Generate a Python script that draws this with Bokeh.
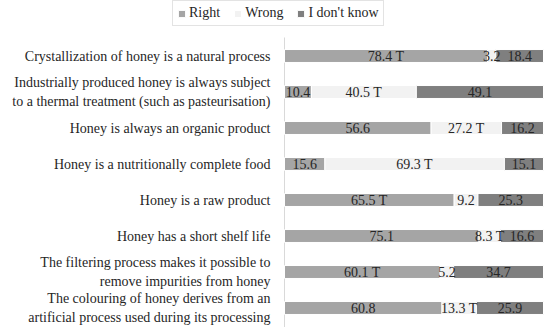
from bokeh.plotting import figure
from bokeh.models import ColumnDataSource, Range1d, Legend, LegendItem
from bokeh.core.properties import value
from bokeh.embed import file_html
from bokeh.resources import INLINE

statements = [
    "Crystallization of honey is a natural process",
    "Industrially produced honey is always subject\nto a thermal treatment (such as pasteurisation)",
    "Honey is always an organic product",
    "Honey is a nutritionally complete food",
    "Honey is a raw product",
    "Honey has a short shelf life",
    "The filtering process makes it possible to\nremove impurities from honey",
    "The colouring of honey derives from an\nartificial process used during its processing",
]
right = [78.4, 10.4, 56.6, 15.6, 65.5, 75.1, 60.1, 60.8]
wrong = [3.2, 40.5, 27.2, 69.3, 9.2, 8.3, 5.2, 13.3]
dont_know = [18.4, 49.1, 16.2, 15.1, 25.3, 16.6, 34.7, 25.9]
right_marks = ["T", "", "", "", "T", "", "T", ""]
wrong_marks = ["", "T", "T", "T", "", "T", "", "T"]
dk_marks = ["", "", "", "", "", "", "", ""]
series_names = ["Right", "Wrong", "I don't know"]
colors = ["#a5a5a5", "#f2f2f2", "#7f7f7f"]

FONT = "Liberation Serif"
TXT = "#262626"
rows = list(range(len(statements)))

W, H = 550, 327
LEFT, RIGHT_PAD = 284, 7          # frame-pixel position of 0 % and space right of 100 %
ROW_PX, FIRST_ROW_PX = 36, 55.5   # row spacing and centre of first row (pixels)
AXIS_TOP_PX = 37

px_per_unit = (W - LEFT - RIGHT_PAD) / 100.0
x_start = -LEFT / px_per_unit
x_end = 100 + RIGHT_PAD / px_per_unit
y_top = rows[0] - FIRST_ROW_PX / ROW_PX
y_bottom = rows[-1] + (H - (FIRST_ROW_PX + ROW_PX * rows[-1])) / ROW_PX
axis_top = rows[0] - (FIRST_ROW_PX - AXIS_TOP_PX) / ROW_PX

src = ColumnDataSource(dict(y=rows, right=right, wrong=wrong, dk=dont_know))

p = figure(width=W, height=H, output_backend="svg", toolbar_location=None,
           x_range=Range1d(x_start, x_end), y_range=Range1d(y_bottom, y_top),
           x_axis_location=None, y_axis_location=None,
           min_border_left=0, min_border_right=0, min_border_top=0, min_border_bottom=0)
p.outline_line_color = None
p.xgrid.visible = False
p.ygrid.visible = False
p.background_fill_color = "white"

# value axis baseline (category axis line)
p.segment(x0=[0], y0=[axis_top], x1=[0], y1=[y_bottom], line_color="#d9d9d9", line_width=1)

renderers = p.hbar_stack(["right", "wrong", "dk"], y="y", height=0.36, color=colors,
                         line_color="white", line_width=1, source=src)

# value labels inside the segments
lx, ly, lt = [], [], []
for i in rows:
    segs = [(right[i], right_marks[i]), (wrong[i], wrong_marks[i]), (dont_know[i], dk_marks[i])]
    start = 0.0
    for v, m in segs:
        lx.append(start + v / 2)
        ly.append(i)
        lt.append(f"{v:.1f}" + (f" {m}" if m else ""))
        start += v
lsrc = ColumnDataSource(dict(x=lx, y=ly, t=lt))
p.text(x="x", y="y", text="t", source=lsrc, text_align="center", text_baseline="middle",
       text_font=value(FONT), text_font_size="14px", text_color=TXT)

# category labels (right aligned against the axis line)
csrc = ColumnDataSource(dict(x=[0] * len(rows), y=rows, t=statements))
p.text(x="x", y="y", text="t", source=csrc, x_offset=-14, text_align="right",
       text_baseline="middle", text_line_height=1.3,
       text_font=value(FONT), text_font_size="14px", text_color=TXT)

legend = Legend(items=[LegendItem(label=n, renderers=[r]) for n, r in zip(series_names, renderers)],
                orientation="horizontal", location=(172, H - 26))
legend.label_text_font = FONT
legend.label_text_font_size = "14px"
legend.label_text_color = TXT
legend.glyph_width = 9
legend.glyph_height = 9
legend.label_standoff = 3
legend.spacing = 13
legend.padding = 4
legend.margin = 0
legend.border_line_color = "#c8c8c8"
legend.label_height = 13
p.add_layout(legend, "center")

open("out.html", "w").write(file_html(p, INLINE))
